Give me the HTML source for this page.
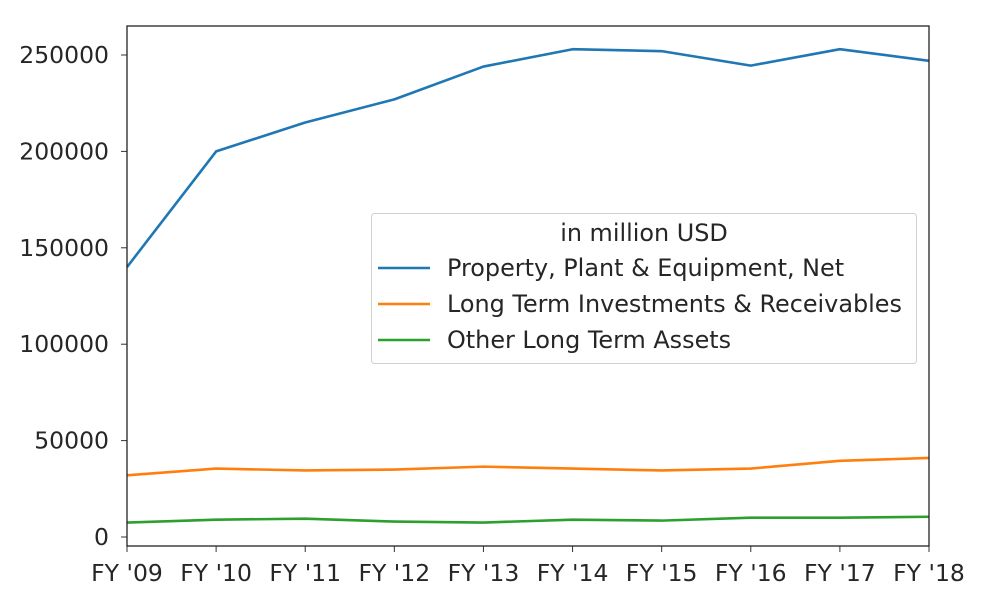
<!DOCTYPE html>
<html><head><meta charset="utf-8"><style>
html,body{margin:0;padding:0;background:#fff;}
svg{display:block;font-family:"DejaVu Sans","Liberation Sans",sans-serif;}
</style></head><body>
<svg id="chart" width="983" height="592"></svg>
<script>
const categories = ["FY '09","FY '10","FY '11","FY '12","FY '13","FY '14","FY '15","FY '16","FY '17","FY '18"];
const ppeValues = [140000,200000,215000,227000,244000,253000,252000,244500,253000,247000];
const ltiValues = [32000,35500,34500,35000,36500,35500,34500,35500,39500,41000];
const otherValues = [7500,9000,9500,8000,7500,9000,8500,10000,10000,10500];
const yTicks = [0,50000,100000,150000,200000,250000];
const seriesNames = ["Property, Plant & Equipment, Net","Long Term Investments & Receivables","Other Long Term Assets"];

const NS="http://www.w3.org/2000/svg";
const svg=document.getElementById('chart');
const L=127,R=929,T=26,B=546;
const FS=23.5, LFS=23.9;
const x=i=>L+(R-L)*i/(categories.length-1);
const y=v=>537-(537-55)*v/250000;
function mk(tag,attrs,parent){const e=document.createElementNS(NS,tag);for(const k in attrs)e.setAttribute(k,attrs[k]);(parent||svg).appendChild(e);return e;}

const axes=mk('g',{});


yTicks.forEach(v=>{
  const g=mk('g',{},axes);
  
  
  mk('line',{x1:L-6,x2:L,y1:y(v),y2:y(v),stroke:'#333','stroke-width':1},g);
  const t=mk('text',{x:L-18,y:y(v)+8,'text-anchor':'end','font-size':FS,fill:'#262626'},g);
  t.textContent=v;
});
categories.forEach((c,i)=>{
  const g=mk('g',{},axes);
  
  
  mk('line',{x1:x(i),x2:x(i),y1:B,y2:B+6,stroke:'#333','stroke-width':1},g);
  const t=mk('text',{x:x(i),y:B+35,'text-anchor':'middle','font-size':FS,fill:'#262626'},g);
  t.textContent=c;
});

const colors=['#1f77b4','#ff7f0e','#2ca02c'];
[ppeValues,ltiValues,otherValues].forEach((vals,s)=>{
  const p=mk('polyline',{points:vals.map((v,i)=>x(i)+','+y(v)).join(' '),fill:'none',stroke:colors[s],'stroke-width':2.6,'stroke-linejoin':'round'});
  
  
});

const frame=mk('rect',{x:L,y:T,width:R-L,height:B-T,fill:'none',stroke:'#222','stroke-width':1.3});



const lg=mk('g',{});


mk('rect',{x:371.5,y:213.5,width:545,height:150,rx:3,fill:'#fff','fill-opacity':0.85,stroke:'#d0d0d0'},lg);
const lt=mk('text',{x:644,y:241,'text-anchor':'middle','font-size':LFS,fill:'#262626'},lg);
lt.textContent='in million USD';
seriesNames.forEach((n,s)=>{
  const g=mk('g',{},lg);
  
  
  const yy=268+36*s;
  mk('line',{x1:378,x2:430,y1:yy,y2:yy,stroke:colors[s],'stroke-width':2.6},g);
  const t=mk('text',{x:447,y:yy+8,'font-size':LFS,fill:'#262626'},g);
  t.textContent=n;
});
</script>
</body></html>
